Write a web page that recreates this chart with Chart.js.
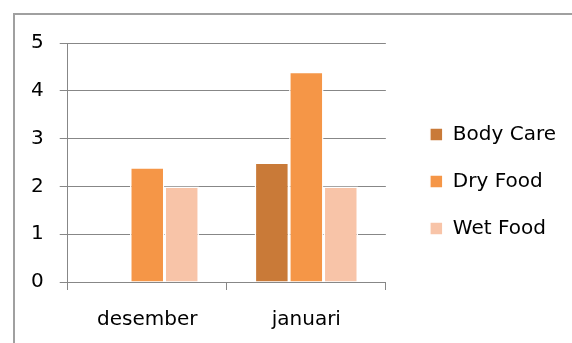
<!DOCTYPE html>
<html>
<head>
<meta charset="utf-8">
<script src="https://cdn.jsdelivr.net/npm/chart.js@4/dist/chart.umd.min.js"></script>
<style>
  html, body { margin: 0; padding: 0; background: #fff; overflow: hidden; }
  #wrap { width: 572px; height: 343px; position: relative; }
</style>
</head>
<body>
<div id="wrap"><canvas id="chart"></canvas></div>
<script>
// chart data
const categories = ['desember', 'januari'];
const bodyCare = [null, 2.5];
const dryFood = [2.4, 4.4];
const wetFood = [2, 2];
const yTicks = [0, 1, 2, 3, 4, 5];

const gridGray = '#878787';
const labelFont = { family: 'DejaVu Sans', size: 20 };

// grey frame on the left and top, like the pasted chart border
const framePlugin = {
  id: 'frame',
  beforeDraw(chart) {
    const c = chart.ctx;
    c.save();
    c.strokeStyle = '#a0a0a0';
    c.lineWidth = 2;
    c.beginPath();
    c.moveTo(14, chart.height + 20);
    c.lineTo(14, 14);
    c.lineTo(chart.width, 14);
    c.stroke();
    c.restore();
  }
};

// nudge the legend: leave a gap after the plot and lift it a bit
const legendNudge = {
  id: 'legendNudge',
  afterLayout(chart) {
    const lg = chart.legend;
    lg.left += 17;
    lg.right += 17;
    lg.top -= 15;
    lg.bottom -= 15;
  }
};

const ctx = document.getElementById('chart').getContext('2d');
const chart = new Chart(ctx, {
  type: 'bar',
  data: {
    labels: categories,
    datasets: [
      { label: 'Body Care', data: bodyCare, backgroundColor: '#C97A38' },
      { label: 'Dry Food', data: dryFood, backgroundColor: '#F59647' },
      { label: 'Wet Food', data: wetFood, backgroundColor: '#F8C4A8' }
    ]
  },
  options: {
    responsive: true,
    maintainAspectRatio: false,
    animation: false,
    datasets: {
      bar: {
        categoryPercentage: 0.65,
        barPercentage: 1,
        borderColor: '#ffffff',
        borderWidth: 1.5,
        borderSkipped: 'bottom'
      }
    },
    layout: { padding: { left: 15, top: 43, right: 23, bottom: -7 } },
    plugins: {
      legend: {
        position: 'right',
        maxWidth: 300,
        labels: {
          font: labelFont,
          color: '#000',
          boxWidth: 13,
          boxHeight: 13,
          padding: 27
        }
      },
      tooltip: { enabled: false }
    },
    scales: {
      x: {
        offset: true,
        grid: { drawOnChartArea: false, offset: true, tickLength: 8, color: gridGray },
        border: { color: gridGray },
        ticks: { font: labelFont, color: '#000', padding: 18 }
      },
      y: {
        min: 0,
        max: 5,
        afterBuildTicks(axis) { axis.ticks = yTicks.map(v => ({ value: v })); },
        grid: { color: gridGray, tickLength: 8 },
        border: { color: gridGray },
        ticks: { font: labelFont, color: '#000', padding: 16 }
      }
    }
  },
  plugins: [framePlugin, legendNudge]
});
</script>
</body>
</html>
